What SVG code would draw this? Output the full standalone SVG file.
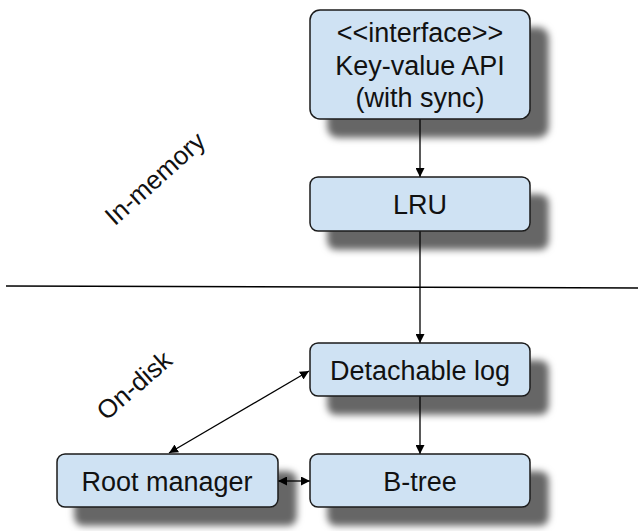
<svg xmlns="http://www.w3.org/2000/svg" width="638" height="531" viewBox="0 0 638 531">
<style>
.box{fill:#cfe2f3;stroke:#1a1a1a;stroke-width:1.5}
.t{font-family:"Liberation Sans",Arial,sans-serif;font-size:27px;fill:#111;text-anchor:middle}
.lbl{font-family:"Liberation Sans",Arial,sans-serif;font-size:26px;fill:#111;text-anchor:middle}
.c{stroke:#000;stroke-width:1.3;fill:none}
</style>
<defs>
<filter id="sh" x="-20%" y="-20%" width="150%" height="170%">
<feGaussianBlur in="SourceAlpha" stdDeviation="3.5"/>
<feOffset dx="18" dy="18" result="b"/>
<feFlood flood-color="#000" flood-opacity="0.6"/>
<feComposite in2="b" operator="in"/>
<feMerge><feMergeNode/><feMergeNode in="SourceGraphic"/></feMerge>
</filter>
<marker id="ah" viewBox="0 0 10 10" refX="10" refY="5" markerWidth="9" markerHeight="9" markerUnits="userSpaceOnUse" orient="auto-start-reverse">
<path d="M0,0 L10,5 L0,10 z" fill="#000"/>
</marker>
</defs>
<line x1="6" y1="286" x2="638" y2="288" stroke="#000" stroke-width="1.5"/>
<text class="lbl" transform="translate(161,185) rotate(-42)">In-memory</text>
<text class="lbl" transform="translate(140,392) rotate(-41)">On-disk</text>
<g id="connectors">
<line class="c" x1="420" y1="119" x2="420" y2="177" marker-end="url(#ah)"/>
<line class="c" x1="420" y1="231" x2="420" y2="343" marker-end="url(#ah)"/>
<line class="c" x1="420" y1="396" x2="420" y2="454" marker-end="url(#ah)"/>
<line class="c" x1="278" y1="481" x2="310" y2="481" marker-start="url(#ah)" marker-end="url(#ah)"/>
<line class="c" x1="169" y1="453" x2="309" y2="371" marker-start="url(#ah)" marker-end="url(#ah)"/>
</g>
<g id="kvapi">
<rect class="box" filter="url(#sh)" x="310" y="10" width="220" height="109" rx="10"/>
<text class="t" x="420" y="42">&lt;&lt;interface&gt;&gt;</text>
<text class="t" x="420" y="75">Key-value API</text>
<text class="t" x="420" y="107">(with sync)</text>
</g>
<g id="lru">
<rect class="box" filter="url(#sh)" x="310" y="177" width="220" height="54" rx="8"/>
<text class="t" x="420" y="214">LRU</text>
</g>
<g id="detachable">
<rect class="box" filter="url(#sh)" x="310" y="343" width="220" height="53" rx="8"/>
<text class="t" x="420" y="380">Detachable log</text>
</g>
<g id="btree">
<rect class="box" filter="url(#sh)" x="310" y="454" width="220" height="53" rx="8"/>
<text class="t" x="420" y="491">B-tree</text>
</g>
<g id="rootmgr">
<rect class="box" filter="url(#sh)" x="57" y="454" width="221" height="53" rx="8"/>
<text class="t" x="167" y="491">Root manager</text>
</g>
</svg>
